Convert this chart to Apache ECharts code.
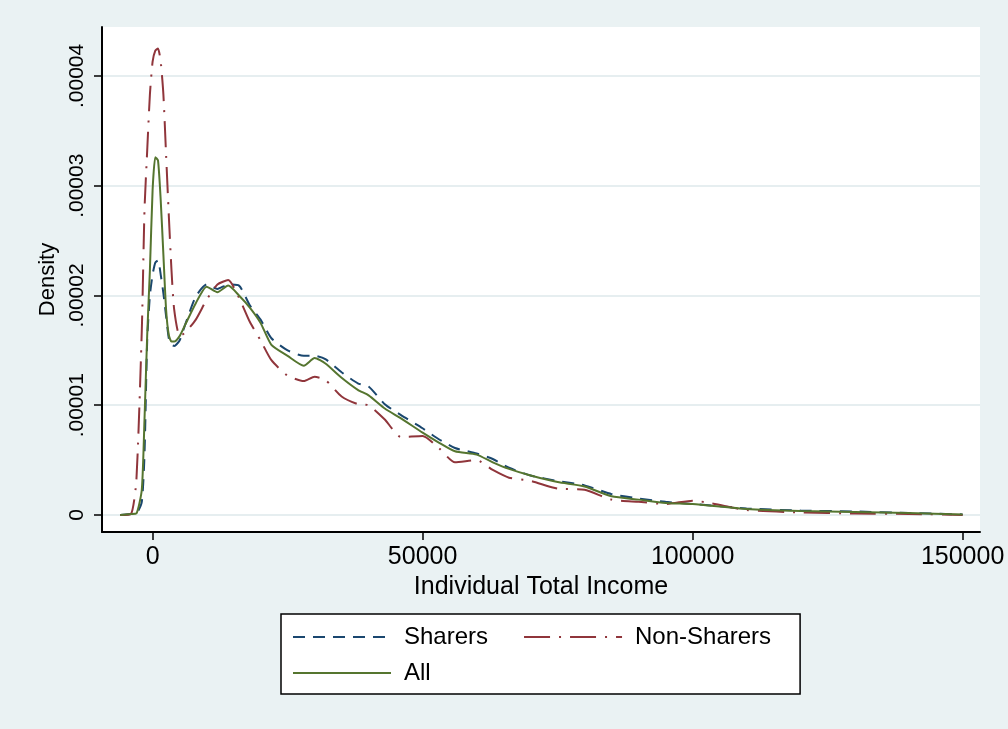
<!DOCTYPE html>
<html>
<head>
<meta charset="utf-8">
<script src="https://cdn.jsdelivr.net/npm/echarts@6/dist/echarts.min.js"></script>
<style>
  html, body { margin: 0; padding: 0; background: #eaf2f3; }
  #main { width: 1008px; height: 729px; }
</style>
</head>
<body>
<div id="main"></div>
<script>
// x: individual total income
var income = [-6000, -4000, -3000, -2000, -1500, -1000, -500, 0, 500, 1000, 1500, 2000, 2500, 3000, 3500, 4000,
  5000, 6000, 8000, 10000, 12000, 14000, 16000, 18000, 20000, 22000, 25000, 28000, 30000, 32000, 35000, 38000,
  40000, 43000, 46000, 50000, 53000, 56000, 60000, 63000, 66000, 70000, 75000, 80000, 85000, 90000, 95000,
  100000, 110000, 120000, 130000, 140000, 150000];

// kernel density, in units of .00001
var sharers = [0, 0.01, 0.014, 0.12, 0.55, 1.59, 2.0, 2.19, 2.30, 2.32, 2.19, 2.02, 1.81, 1.61, 1.55, 1.54,
  1.59, 1.73, 1.99, 2.10, 2.06, 2.10, 2.09, 1.91, 1.78, 1.61, 1.50, 1.45, 1.45, 1.42, 1.30, 1.20,
  1.17, 1.01, 0.91, 0.79, 0.69, 0.61, 0.56, 0.51, 0.43, 0.36, 0.31, 0.27, 0.19, 0.15, 0.12,
  0.10, 0.06, 0.04, 0.032, 0.018, 0.005];
var nonSharers = [0, 0.01, 0.32, 1.68, 2.78, 3.32, 3.83, 4.13, 4.23, 4.25, 4.13, 3.83, 3.28, 2.73, 2.23, 1.87,
  1.63, 1.66, 1.78, 1.96, 2.10, 2.14, 1.98, 1.76, 1.59, 1.41, 1.27, 1.22, 1.26, 1.23, 1.08, 1.01,
  1.00, 0.87, 0.71, 0.72, 0.61, 0.48, 0.50, 0.41, 0.34, 0.31, 0.24, 0.23, 0.14, 0.12, 0.10,
  0.13, 0.045, 0.023, 0.014, 0.01, 0];
var allPeople = [0, 0.009, 0.014, 0.23, 0.87, 1.64, 2.23, 2.96, 3.26, 3.23, 2.87, 2.37, 1.87, 1.64, 1.58, 1.58,
  1.63, 1.73, 1.93, 2.08, 2.03, 2.09, 2.0, 1.89, 1.75, 1.55, 1.45, 1.36, 1.43, 1.38, 1.25, 1.14,
  1.09, 0.97, 0.88, 0.75, 0.66, 0.58, 0.55, 0.48, 0.42, 0.36, 0.30, 0.26, 0.17, 0.14, 0.11,
  0.10, 0.055, 0.036, 0.027, 0.018, 0.005];

var xTicks = [0, 50000, 100000, 150000];
var xTickLabels = ['0', '50000', '100000', '150000'];
var yTicks = [0, 1, 2, 3, 4];
var yTickLabels = ['0', '.00001', '.00002', '.00003', '.00004'];

function pairs(ys) {
  return income.map(function (x, i) { return [x, ys[i]]; });
}

var chart = echarts.init(document.getElementById('main'));

var legendBase = {
  orient: 'horizontal',
  itemWidth: 98,
  itemHeight: 14,
  itemGap: 35,
  itemStyle: { opacity: 0 },
  textStyle: { fontSize: 24, color: '#000', padding: [0, 0, 0, 8] }
};

var option = {
  backgroundColor: '#eaf2f3',
  animation: false,
  textStyle: { fontFamily: 'Liberation Sans, Arial, sans-serif' },
  grid: {
    left: 102, top: 27, right: 28, bottom: 197,
    show: true, backgroundColor: '#fff', borderWidth: 0
  },
  legend: [
    Object.assign({}, legendBase, {
      data: ['Sharers', 'Non-Sharers'],
      left: 281, top: 614,
      padding: [11, 29, 45, 11],
      backgroundColor: '#fff',
      borderColor: '#000',
      borderWidth: 1.5
    }),
    Object.assign({}, legendBase, {
      data: ['All'],
      left: 281, top: 649,
      padding: [12, 0, 0, 11],
      z: 5
    })
  ],
  xAxis: {
    type: 'value',
    min: -9370,
    max: 153220,
    name: 'Individual Total Income',
    nameLocation: 'middle',
    nameGap: 42,
    nameTextStyle: { fontSize: 25, color: '#000' },
    axisLine: { onZero: false, lineStyle: { color: '#000', width: 2 } },
    axisTick: { customValues: xTicks, length: 8, lineStyle: { color: '#000', width: 1.5 } },
    axisLabel: {
      customValues: xTicks, fontSize: 25, color: '#000', margin: 13,
      formatter: function (v) { return xTickLabels[xTicks.indexOf(v)]; }
    },
    splitLine: { show: false }
  },
  yAxis: {
    type: 'value',
    min: -0.155,
    max: 4.446,
    name: 'Density',
    nameLocation: 'middle',
    nameGap: 43,
    nameTextStyle: { fontSize: 22, color: '#000' },
    axisLine: { show: true, onZero: false, lineStyle: { color: '#000', width: 2 } },
    axisTick: { show: true, customValues: yTicks, length: 8, lineStyle: { color: '#000', width: 1.5 } },
    axisLabel: {
      customValues: yTicks, rotate: 90, fontSize: 21, color: '#000', margin: 14,
      formatter: function (v) { return yTickLabels[yTicks.indexOf(v)]; }
    },
    splitLine: { show: true, lineStyle: { color: '#e6eef0', width: 2 } }
  },
  series: [
    {
      name: 'Sharers',
      type: 'line',
      data: pairs(sharers),
      symbol: 'none',
      smooth: 0.2,
      itemStyle: { color: '#1a476f' },
      lineStyle: { color: '#1a476f', width: 2, type: [12, 8] }
    },
    {
      name: 'Non-Sharers',
      type: 'line',
      data: pairs(nonSharers),
      symbol: 'none',
      smooth: 0.2,
      itemStyle: { color: '#90353b' },
      lineStyle: { color: '#90353b', width: 2, type: [26, 9, 2, 9] }
    },
    {
      name: 'All',
      type: 'line',
      data: pairs(allPeople),
      symbol: 'none',
      smooth: 0.2,
      itemStyle: { color: '#55752f' },
      lineStyle: { color: '#55752f', width: 2 }
    }
  ]
};

chart.setOption(option);
</script>
</body>
</html>
